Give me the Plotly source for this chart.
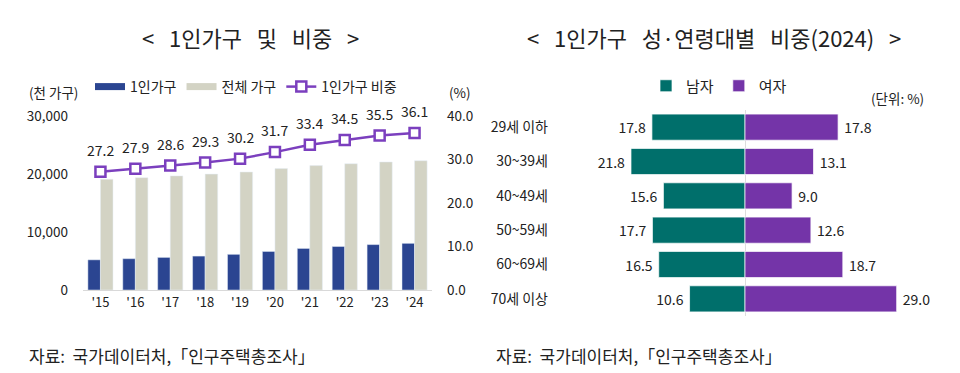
import plotly.graph_objects as go

# ---------------- data ----------------
years = ["'15", "'16", "'17", "'18", "'19", "'20", "'21", "'22", "'23", "'24"]
one_person = [5203, 5398, 5619, 5849, 6148, 6643, 7166, 7502, 7829, 8045]      # 천 가구
total_households = [19111, 19368, 19674, 19979, 20343, 20927, 21448, 21774, 22073, 22292]
one_person_share = [27.2, 27.9, 28.6, 29.3, 30.2, 31.7, 33.4, 34.5, 35.5, 36.1]  # %

age_groups = ["29세 이하", "30~39세", "40~49세", "50~59세", "60~69세", "70세 이상"]
male_share = [17.8, 21.8, 15.6, 17.7, 16.5, 10.6]
female_share = [17.8, 13.1, 9.0, 12.6, 18.7, 29.0]

# ---------------- style ----------------
FONT = "Noto Sans CJK KR"
TXT = "#222222"
NAVY = "#2B4591"
GREY = "#D3D3C4"
PURPLE = "#7434A8"
LINE_PURPLE = "#7B3FBE"
TEAL = "#006F6B"

# page body has an 8px margin: size the figure to fill the rest of the window
OFF = 8
W, H = 960 - OFF, 373 - OFF
def px_x(p): return (p - OFF) / W
def px_y(p): return 1 - (p - OFF) / H

NB = "\u00a0"

fig = go.Figure()

# ---- left chart ----
fig.add_trace(go.Bar(x=years, y=one_person, name="1인가구", marker_color=NAVY,
                     xaxis="x", yaxis="y", showlegend=False))
fig.add_trace(go.Bar(x=years, y=total_households, name="전체 가구", marker_color=GREY,
                     xaxis="x", yaxis="y", showlegend=False))
# legend-only swatches (wide rectangles like the reference)
fig.add_trace(go.Scatter(x=[None], y=[None], mode="lines", name="1인가구",
                         line=dict(color=NAVY, width=7), xaxis="x", yaxis="y", legend="legend"))
fig.add_trace(go.Scatter(x=[None], y=[None], mode="lines", name="전체 가구",
                         line=dict(color=GREY, width=7), xaxis="x", yaxis="y", legend="legend"))
fig.add_trace(go.Scatter(x=years, y=one_person_share, name="1인가구 비중",
                         mode="lines+markers",
                         line=dict(color=LINE_PURPLE, width=2.5),
                         marker=dict(symbol="square", size=10, color="white",
                                     line=dict(color=LINE_PURPLE, width=2.5)),
                         xaxis="x", yaxis="y2", legend="legend", cliponaxis=False))

# ---- right chart ----
fig.add_trace(go.Bar(y=age_groups, x=[-v for v in male_share], orientation="h",
                     name="남자", marker=dict(color=TEAL, line=dict(color="rgba(255,255,255,0.7)", width=1)),
                     text=[f"{v:.1f}{NB}" for v in male_share], textposition="outside",
                     textfont=dict(size=14, color=TXT, family=FONT),
                     width=0.76, offsetgroup="g", cliponaxis=False,
                     xaxis="x2", yaxis="y3", legend="legend2"))
fig.add_trace(go.Bar(y=age_groups, x=female_share, orientation="h",
                     name="여자", marker=dict(color=PURPLE, line=dict(color="rgba(255,255,255,0.7)", width=1)),
                     text=[f"{NB}{v:.1f}" for v in female_share], textposition="outside",
                     textfont=dict(size=14, color=TXT, family=FONT),
                     width=0.76, offsetgroup="g", cliponaxis=False,
                     xaxis="x2", yaxis="y3", legend="legend2"))

sp = NB * 2 + " "
annotations = [
    dict(text=f"<{sp}1인가구{sp}및{sp}비중{sp}>", x=px_x(250), y=px_y(37), font=dict(size=22)),
    dict(text=f"<{sp}1인가구{sp}성·연령대별{sp}비중(2024){sp}>", x=px_x(714), y=px_y(37), font=dict(size=22)),
    dict(text="(천 가구)", x=px_x(27), y=px_y(92), xanchor="left", font=dict(size=13.5)),
    dict(text="(%)", x=px_x(447), y=px_y(92), xanchor="left", font=dict(size=13.5)),
    dict(text="(단위: %)", x=px_x(926), y=px_y(98), xanchor="right", font=dict(size=13.5)),
    dict(text=f"자료:{NB} 국가데이터처,「인구주택총조사」", x=px_x(27), y=px_y(355), xanchor="left", font=dict(size=17)),
    dict(text=f"자료:{NB} 국가데이터처,「인구주택총조사」", x=px_x(494), y=px_y(355), xanchor="left", font=dict(size=17)),
]
for a in annotations:
    a.setdefault("xanchor", "center")
    a.update(xref="paper", yref="paper", yanchor="middle", showarrow=False)
    a["font"].update(family=FONT, color=TXT)

# value labels above the line markers
for yr, v in zip(years, one_person_share):
    annotations.append(dict(text=f"{v:.1f}", x=yr, y=v, xref="x", yref="y2",
                            yshift=22, showarrow=False, xanchor="center", yanchor="middle",
                            font=dict(size=14, color=TXT, family=FONT)))

fig.update_layout(
    width=W, height=H,
    margin=dict(l=0, r=0, t=0, b=0, pad=0, autoexpand=False),
    paper_bgcolor="white", plot_bgcolor="white",
    font=dict(family=FONT, color=TXT, size=13),
    barmode="group", bargap=0.28, bargroupgap=0,
    annotations=annotations,
    xaxis=dict(domain=[px_x(83), px_x(432)], anchor="y", type="category",
               range=[-0.5, len(years) - 0.5],
               showline=True, linecolor="#D9D9D9", linewidth=1, ticks="",
               showgrid=False, tickfont=dict(size=13), automargin=False),
    yaxis=dict(domain=[px_y(290), px_y(116)], anchor="x", range=[0, 30000],
               tickvals=[0, 10000, 20000, 30000], tickformat=",",
               showgrid=False, zeroline=False, ticks="", ticklabelstandoff=14,
               tickfont=dict(size=13.5), automargin=False),
    yaxis2=dict(overlaying="y", side="right", anchor="x", range=[0, 40],
                tickvals=[0, 10, 20, 30, 40], tickformat=".1f",
                showgrid=False, zeroline=False, ticks="", ticklabelstandoff=14,
                tickfont=dict(size=13.5), automargin=False),
    xaxis2=dict(domain=[px_x(555), px_x(930)], anchor="y3",
                range=[-(745 - 555) / 5.23, (930 - 745) / 5.23],
                showticklabels=False, showgrid=False, ticks="",
                zeroline=True, zerolinecolor="#DDDDDD", zerolinewidth=1, automargin=False),
    yaxis3=dict(domain=[px_y(316), px_y(110)], anchor="x2", type="category",
                autorange="reversed", showgrid=False, ticks="",
                ticklabelstandoff=6, tickfont=dict(size=14), automargin=False),
    legend=dict(orientation="h", x=px_x(90), y=px_y(87), xanchor="left", yanchor="middle",
                font=dict(size=14), bgcolor="rgba(0,0,0,0)", itemwidth=30,
                tracegroupgap=0),
    legend2=dict(orientation="h", x=px_x(646), y=px_y(86), xanchor="left", yanchor="middle",
                 font=dict(size=15), bgcolor="rgba(0,0,0,0)", itemwidth=30),
)

fig.write_html("out.html")
